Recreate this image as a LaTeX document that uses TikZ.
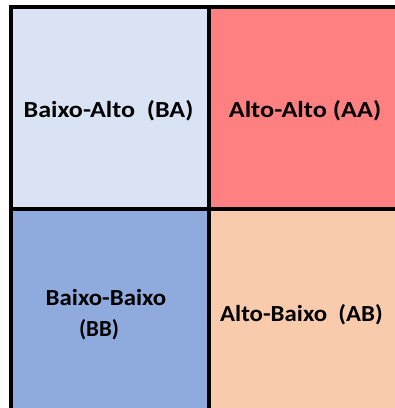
\documentclass[tikz,border=0pt]{standalone}
\usepackage{fontspec}
\setmainfont{Carlito}
\definecolor{cBA}{HTML}{DAE3F3}
\definecolor{cAA}{HTML}{FF8080}
\definecolor{cBB}{HTML}{8FAADC}
\definecolor{cAB}{HTML}{F8CBAD}
\tikzset{
  lbl/.style={font=\fontsize{23}{27}\selectfont\bfseries, inner sep=0pt, anchor=base, xscale=1.08},
  grid/.style={line width=4pt, black}
}
\begin{document}
\begin{tikzpicture}[x=1pt,y=-1pt]
\useasboundingbox (0,0) rectangle (395,408);
\fill[white] (0,0) rectangle (395,408);
\fill[cBA] (11,7) rectangle (209,209);
\fill[cAA] (209,7) rectangle (395,209);
\fill[cBB] (11,209) rectangle (209,408);
\fill[cAB] (209,209) rectangle (395,408);
\coordinate (tl) at (9,7);
\coordinate (tr) at (395,7);
\coordinate (lt) at (11,5);
\coordinate (lb) at (11,408);
\coordinate (mt) at (209,5);
\coordinate (mb) at (209,408);
\coordinate (ml) at (9,209);
\coordinate (mr) at (395,209);
\draw[grid] (tl) -- (tr);
\draw[grid] (lt) -- (lb);
\draw[grid] (mt) -- (mb);
\draw[grid] (ml) -- (mr);
\node[lbl, xscale=1.05] (ba) at (108.5,117.5) {Baixo-Alto\ \ (BA)};
\node[lbl, xscale=1.06] (aa) at (305,117.5) {Alto-Alto (AA)};
\node[lbl] (bb1) at (106,305) {Baixo-Baixo};
\node[lbl, xscale=0.92] (bb2) at (99,336) {(BB)};
\node[lbl] (ab) at (301.5,321.5) {Alto-Baixo\ \ (AB)};
\end{tikzpicture}
\end{document}
